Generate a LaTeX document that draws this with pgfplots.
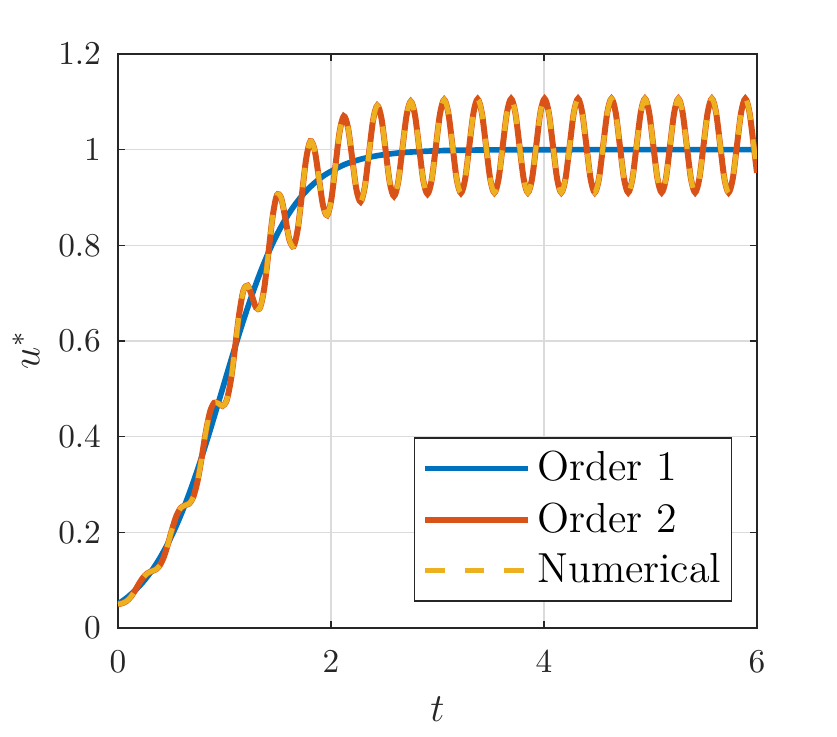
\documentclass[border=0pt]{standalone}
\usepackage{pgfplots}
\pgfplotsset{compat=1.18}
\usepackage{pgfplotstable}
\definecolor{mblue}{rgb}{0,0.447,0.741}
\definecolor{morange}{rgb}{0.85,0.325,0.098}
\definecolor{myellow}{rgb}{0.929,0.694,0.125}
\definecolor{axgray}{rgb}{0.15,0.15,0.15}

\pgfplotstableread{
t u
0 0.05
0.07854 0.06246
0.15708 0.07776
0.23562 0.09643
0.31416 0.11900
0.39270 0.14600
0.47124 0.17789
0.54978 0.21500
0.62832 0.25742
0.70686 0.30495
0.78540 0.35704
0.86394 0.41275
0.94248 0.47079
1.02102 0.52963
1.09956 0.58765
1.17810 0.64334
1.25664 0.69540
1.33518 0.74291
1.41372 0.78529
1.49226 0.82236
1.57080 0.85421
1.64934 0.88117
1.72788 0.90372
1.80642 0.92236
1.88496 0.93765
1.96350 0.95008
2.12058 0.96824
2.27765 0.97994
2.43473 0.98738
2.59181 0.99208
2.74889 0.99504
2.98451 0.99755
3.14159 0.99847
3.53429 0.99953
3.92699 0.99985
4.5 1.0
6 1.0
}\orderone

\pgfplotstableread{
t u
0 0.0497
0.03927 0.0517
0.07854 0.0560
0.11781 0.0645
0.15708 0.0773
0.19635 0.0922
0.23562 0.1054
0.27489 0.1141
0.31416 0.1184
0.35343 0.1221
0.39270 0.1309
0.43197 0.1493
0.47124 0.1770
0.51051 0.2084
0.54978 0.2351
0.58905 0.2508
0.62832 0.2563
0.66759 0.2599
0.70686 0.2738
0.74613 0.3063
0.78540 0.3557
0.82467 0.4098
0.86394 0.4518
0.90321 0.4708
0.94248 0.4694
0.98175 0.4642
1.02102 0.4764
1.06029 0.5189
1.09956 0.5866
1.13883 0.6576
1.17810 0.7056
1.21737 0.7158
1.25664 0.6951
1.29591 0.6699
1.33518 0.6704
1.37445 0.7124
1.41372 0.7863
1.45299 0.8616
1.49226 0.9047
1.53153 0.8992
1.57080 0.8568
1.61007 0.8111
1.64934 0.7982
1.68861 0.8348
1.72788 0.9078
1.76715 0.9813
1.80642 1.0176
1.84569 1.0000
1.88496 0.9431
1.92423 0.8845
1.96350 0.8629
2.00277 0.8954
2.04204 0.9666
2.08131 1.0379
2.12058 1.0700
2.15984 1.0460
2.19911 0.9819
2.23838 0.9170
2.27765 0.8913
2.31692 0.9216
2.35619 0.9917
2.39546 1.0619
2.43473 1.0920
2.47400 1.0652
2.51327 0.9979
2.55254 0.9304
2.59181 0.9029
2.63108 0.9323
2.67035 1.0019
2.70962 1.0715
2.74889 1.1008
2.78816 1.0728
2.82743 1.0044
2.86670 0.9358
2.90597 0.9075
2.94524 0.9365
2.98451 1.0059
3.02378 1.0754
3.06305 1.1043
3.10232 1.0759
3.14159 1.0069
3.18086 0.9379
3.22013 0.9094
3.25940 0.9382
3.29867 1.0075
3.33794 1.0769
3.37721 1.1056
3.41648 1.0770
3.45575 1.0079
3.49502 0.9387
3.53429 0.9101
3.57356 0.9388
3.61283 1.0081
3.65210 1.0774
3.69137 1.1062
3.73064 1.0775
3.76991 1.0083
3.80918 0.9390
3.84845 0.9103
3.88772 0.9390
3.92699 1.0084
3.96626 1.0777
4.00553 1.1064
4.04480 1.0777
4.08407 1.0085
4.12334 0.9392
4.16261 0.9105
4.20188 0.9392
4.24115 1.0085
4.28042 1.0778
4.31969 1.1065
4.35896 1.0778
4.39823 1.0085
4.43750 0.9392
4.47677 0.9105
4.51604 0.9392
4.55531 1.0085
4.59458 1.0778
4.63385 1.1065
4.67312 1.0778
4.71239 1.0085
4.75166 0.9392
4.79093 0.9105
4.83020 0.9392
4.86947 1.0085
4.90874 1.0778
4.94801 1.1065
4.98728 1.0778
5.02655 1.0085
5.06582 0.9392
5.10509 0.9105
5.14436 0.9392
5.18363 1.0085
5.22290 1.0778
5.26217 1.1065
5.30144 1.0778
5.34071 1.0085
5.37998 0.9392
5.41925 0.9105
5.45852 0.9392
5.49779 1.0085
5.53706 1.0778
5.57633 1.1065
5.61560 1.0778
5.65487 1.0085
5.69414 0.9392
5.73341 0.9105
5.77268 0.9392
5.81195 1.0085
5.85122 1.0778
5.89049 1.1065
5.92976 1.0778
5.96903 1.0085
6.0 0.9517
}\ordertwo

\begin{document}
\begin{tikzpicture}
\useasboundingbox (-35.4pt,-32.7pt) rectangle (215.7pt,188.4pt);
\begin{axis}[
  scale only axis, width=191.7pt, height=172.2pt,
  at={(0,0)}, anchor=south west,
  xmin=0, xmax=6, ymin=0, ymax=1.2,
  xtick={0,2,4,6}, ytick={0,0.2,0.4,0.6,0.8,1,1.2},
  grid=major,
  major grid style={line width=0.4pt, draw=black!14},
  axis line style={draw=axgray, line width=0.45pt},
  tick style={draw=axgray, line width=0.45pt},
  major tick length=2.2pt,
  tick align=inside,
  ticklabel style={font=\fontsize{10}{12}\selectfont, text=axgray},
  yticklabel style={xshift=-1.6pt},
  xticklabel style={yshift=-3.3pt},
  xlabel={$t$}, ylabel={$u^*$},
  xlabel style={font=\fontsize{11.5}{13}\selectfont, text=axgray, at={(axis description cs:0.5,0)}, anchor=north, yshift=-17.2pt},
  ylabel style={font=\fontsize{11.5}{13}\selectfont, text=axgray, at={(axis description cs:-0.1221,0.484)}, anchor=south, inner sep=0pt},
  legend style={at={(0.9609,0.0453)}, anchor=south east, draw=axgray, line width=0.45pt, fill=white,
    inner xsep=2.4pt, inner ysep=2pt, row sep=1pt, column sep=1.3pt, font=\fontsize{12.6}{14}\selectfont,
    nodes={inner xsep=0.6pt, inner ysep=2pt, text depth=0.15em}},
  legend cell align=left,
  legend image code/.code={\draw[#1] (0pt,0pt) -- (30.8pt,0pt);},
]
\addplot[mblue, line width=1.7pt, smooth] table[x=t, y=u] {\orderone};
\addlegendentry{Order 1}
\addplot[morange, line width=1.8pt, smooth] table[x=t, y=u] {\ordertwo};
\addlegendentry{Order 2}
\addplot[myellow, line width=1.5pt, smooth, dash pattern=on 5.9pt off 5.9pt] table[x=t, y=u] {\ordertwo};
\addlegendentry{Numerical}
\end{axis}
\end{tikzpicture}
\end{document}
